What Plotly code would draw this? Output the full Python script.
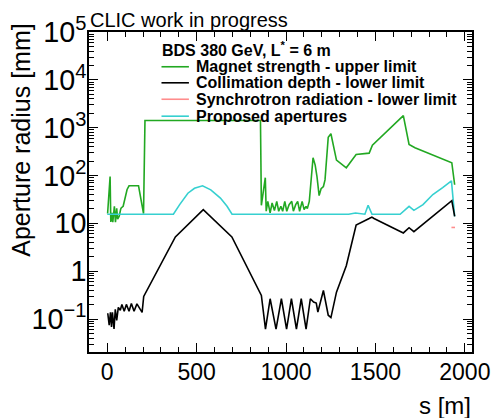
import plotly.graph_objects as go

# ---------------- data ----------------
magnet_s = [2, 16, 20, 27, 31, 40, 46, 53, 58, 67, 75, 78, 89, 100, 111, 122, 175, 203, 211,
            857, 862, 884, 889, 898, 911, 922, 935, 948, 959, 971, 981, 993, 1004, 1017, 1032,
            1041, 1054, 1065, 1076, 1090, 1101, 1112, 1119, 1130, 1151, 1163, 1173, 1185, 1196,
            1209, 1218, 1236, 1251, 1282, 1337, 1392, 1465, 1483, 1656, 1688, 1721, 1927, 1943]
magnet_r = [16, 95, 10.7, 16.5, 10.6, 22.7, 10.6, 20.6, 12.2, 14.1, 19.7, 20.9, 22.7, 37, 51, 61, 61, 16, 1413,
            1413, 23.8, 90, 17.9, 28.8, 16.5, 26.6, 18.5, 28.8, 17.9, 22.7, 17.9, 28.8, 17.9, 24.6, 28.8,
            17.9, 24.6, 28.8, 17.9, 28.8, 19.4, 22.7, 20.3, 28.8, 235, 165, 95, 38, 53,
            59, 81, 630, 745, 210, 145, 275, 293, 430, 1790, 445, 380, 185, 64]

collim_s = [3, 11, 18, 24, 29, 38, 45, 53, 62, 73, 82, 95, 107, 122, 135, 150, 166, 195, 204,
            381, 537, 697, 862, 885, 911, 944, 974, 1003, 1030, 1058, 1085, 1112, 1136, 1154,
            1169, 1178, 1209, 1236, 1251, 1282, 1337, 1392, 1465, 1480, 1492, 1656, 1688, 1715,
            1927, 1943]
collim_r = [0.132, 0.074, 0.138, 0.068, 0.138, 0.062, 0.16, 0.094, 0.175, 0.152, 0.202, 0.145, 0.202,
            0.145, 0.212, 0.145, 0.207, 0.138, 0.296,
            5.2, 19.4, 5.2, 0.31, 0.0615, 0.265, 0.0615, 0.265, 0.0615, 0.265, 0.0615, 0.265, 0.0615,
            0.265, 0.226, 0.215, 0.14, 0.394, 0.12, 0.107, 0.364, 1.3, 9.2, 12.6, 13.5, 12.6, 6.3,
            8.1, 6.7, 29.8, 14]

sr_s = [1925, 1945]
sr_r = [8.2, 8.2]

aper_s = [0, 370, 405, 451, 488, 533, 579, 633, 670, 698, 1350, 1388, 1441, 1459, 1481,
          1638, 1688, 1715, 1766, 1821, 1876, 1925, 1943]
aper_r = [15.5, 15.5, 24.6, 42.6, 54, 61, 50, 33.7, 22.7, 15.5, 15.5, 16.4, 15.5, 23.8, 15.5,
          15.5, 22.7, 18.7, 24.6, 40, 56, 77, 14]

x_ticks = [0, 500, 1000, 1500, 2000]

names = ["Magnet strength - upper limit", "Collimation depth - lower limit",
         "Synchrotron radiation - lower limit", "Proposed apertures"]
colors = ["#22a822", "#000000", "#ff8c8c", "#36d0d0"]

FONT = "Liberation Sans, Arial, Helvetica, sans-serif"

fig = go.Figure()
series = [(magnet_s, magnet_r), (collim_s, collim_r), (sr_s, sr_r), (aper_s, aper_r)]
draw_order = [0, 2, 3, 1]
for i in draw_order:
    s, r = series[i]
    fig.add_trace(go.Scatter(x=s, y=r, mode="lines", name=names[i],
                             line=dict(color=colors[i], width=1.6), showlegend=False))

W, H = 502, 418
ml, mr, mt, mb = 89, 22, 27, 66
pw, ph = W - ml - mr, H - mt - mb

def px(x):
    return (x - ml) / pw

def py(y):
    return (H - mb - y) / ph

annotations = [
    dict(text="CLIC work in progress", x=px(88), y=py(15), xref="paper", yref="paper",
         xanchor="left", yanchor="middle", showarrow=False, font=dict(size=20, family=FONT, color="black")),
    dict(text="Aperture radius [mm]", x=px(20), y=py(137), xref="paper", yref="paper",
         xanchor="center", yanchor="middle", textangle=-90, showarrow=False,
         font=dict(size=25, family=FONT, color="black")),
    dict(text="s [m]", x=px(481), y=py(406), xref="paper", yref="paper",
         xanchor="right", yanchor="middle", showarrow=False, font=dict(size=24, family=FONT, color="black")),
    dict(text="<b>BDS 380 GeV, L<sup>*</sup> = 6 m</b>", x=px(161), y=py(44), xref="paper", yref="paper",
         xanchor="left", yanchor="middle", showarrow=False, font=dict(size=16, family=FONT, color="black")),
]
shapes = []
leg_y = [62.3, 78.6, 95.3, 112.5]
for i in range(4):
    shapes.append(dict(type="line", xref="paper", yref="paper", x0=px(163), x1=px(191),
                       y0=py(leg_y[i]), y1=py(leg_y[i]), line=dict(color=colors[i], width=1.6)))
    annotations.append(dict(text="<b>" + names[i] + "</b>", x=px(196), y=py(leg_y[i]),
                            xref="paper", yref="paper", xanchor="left", yanchor="middle",
                            showarrow=False, font=dict(size=16, family=FONT, color="black")))

fig.update_layout(
    width=W, height=H,
    margin=dict(l=ml, r=mr, t=mt, b=mb),
    paper_bgcolor="white", plot_bgcolor="white",
    showlegend=False,
    font=dict(family=FONT, color="black"),
    annotations=annotations, shapes=shapes,
    xaxis=dict(range=[-102, 2040], tickvals=x_ticks, ticktext=[str(v) for v in x_ticks],
               ticks="inside", ticklen=9, tickwidth=1, tickcolor="black",
               minor=dict(ticks="inside", ticklen=5, dtick=100, tick0=0, tickcolor="black", showgrid=False),
               showline=True, linecolor="black", linewidth=2, mirror="allticks",
               showgrid=False, zeroline=False, tickfont=dict(size=23, family=FONT, color="black"),
               ticklabelstandoff=-2),
    yaxis=dict(type="log", range=[-1.69, 5.0], dtick=1, exponentformat="power",
               ticks="inside", ticklen=9, tickwidth=1, tickcolor="black",
               minor=dict(ticks="inside", ticklen=5, dtick="D1", tickcolor="black", showgrid=False),
               showline=True, linecolor="black", linewidth=2, mirror="allticks",
               showgrid=False, zeroline=False, tickfont=dict(size=23, family=FONT, color="black"),
               ticklabelstandoff=-4),
)

fig.write_html("out.html",
               config={"displayModeBar": False},
               post_script="document.body.style.margin='0';document.body.style.padding='0';"
                           "document.body.style.overflow='hidden';")
